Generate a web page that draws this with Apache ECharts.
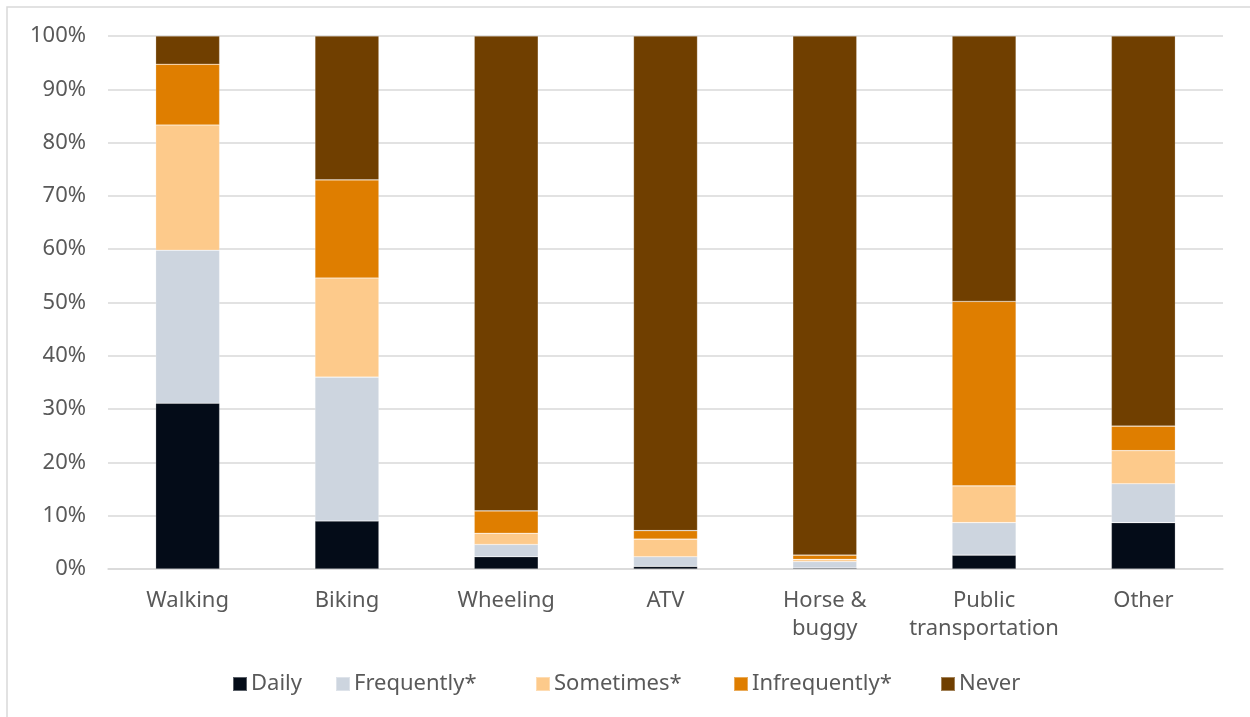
<!DOCTYPE html>
<html>
<head>
<meta charset="utf-8">
<script src="https://cdn.jsdelivr.net/npm/echarts@6/dist/echarts.min.js"></script>
<style>
  html, body { margin: 0; padding: 0; background: #ffffff; }
  #chart { width: 1250px; height: 717px; }
</style>
</head>
<body>
<div id="chart"></div>
<script>
// Share of respondents by how often they use each mode of travel (%)
const categories = ['Walking', 'Biking', 'Wheeling', 'ATV', 'Horse &\nbuggy', 'Public\ntransportation', 'Other'];
const daily        = [31.1,  9.0, 2.3, 0.5, 0.2,  2.6,  8.7];
const frequently   = [28.7, 27.0, 2.3, 1.8, 1.2,  6.1,  7.3];
const sometimes    = [23.5, 18.6, 2.1, 3.3, 0.4,  6.9,  6.2];
const infrequently = [11.4, 18.4, 4.2, 1.6, 0.8, 34.6,  4.6];
const never        = [ 5.3, 27.0, 89.1, 92.8, 97.4, 49.8, 73.2];
const seriesNames  = ['Daily', 'Frequently*', 'Sometimes*', 'Infrequently*', 'Never'];
const yTicks       = [0, 10, 20, 30, 40, 50, 60, 70, 80, 90, 100];

const colors = ['#040c18', '#cdd5df', '#fdca8b', '#df7e00', '#703f00'];
const seriesData = [daily, frequently, sometimes, infrequently, never];
const fontFamily = '"Noto Sans", "Open Sans", sans-serif';
const textColor = '#595959';

// Legend entries placed individually, as each has its own slot width
const legendLefts = [227, 330, 530, 728, 935];
const legends = seriesNames.map((name, i) => ({
  data: [name],
  left: legendLefts[i],
  top: 668,
  itemWidth: 14,
  itemHeight: 14,
  itemGap: 0,
  icon: 'rect',
  textStyle: { color: textColor, fontSize: 22, fontFamily: fontFamily, padding: [0, 0, 0, -1] }
}));

const chart = echarts.init(document.getElementById('chart'), null, { renderer: 'canvas' });
chart.setOption({
  animation: false,
  backgroundColor: '#ffffff',
  color: colors,
  graphic: [{
    type: 'rect',
    shape: { x: 7, y: 7, width: 1260, height: 730 },
    style: { fill: 'none', stroke: '#d9d9d9', lineWidth: 1.5 },
    silent: true,
    z: -1
  }],
  legend: legends,
  grid: { left: 108, right: 27, top: 36, bottom: 148, containLabel: false },
  xAxis: {
    type: 'category',
    data: categories,
    axisLine: { show: true, lineStyle: { color: '#d9d9d9', width: 1.5 } },
    axisTick: { show: false },
    axisLabel: {
      color: textColor, fontSize: 22, fontFamily: fontFamily,
      margin: 18, lineHeight: 28, interval: 0
    }
  },
  yAxis: {
    type: 'value',
    min: yTicks[0],
    max: yTicks[yTicks.length - 1],
    interval: 10,
    axisLine: { show: false },
    axisTick: { show: false },
    splitLine: { lineStyle: { color: '#d9d9d9', width: 1.5 } },
    axisLabel: {
      color: textColor, fontSize: 22, fontFamily: fontFamily, margin: 22,
      formatter: v => v + '%'
    }
  },
  series: seriesNames.map((name, i) => ({
    name: name,
    type: 'bar',
    stack: 'total',
    barWidth: 64,
    data: seriesData[i],
    itemStyle: { color: colors[i], borderColor: 'rgba(255,255,255,0.35)', borderWidth: 0.6 }
  }))
});
</script>
</body>
</html>
